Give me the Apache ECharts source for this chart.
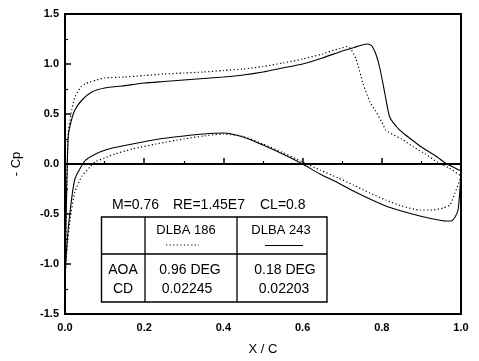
<!DOCTYPE html>
<html><head><meta charset="utf-8">
<script src="https://cdn.jsdelivr.net/npm/echarts@6/dist/echarts.min.js"></script>
<style>html,body{margin:0;padding:0;background:#fff}#c{width:479px;height:361px}</style>
</head><body><div id="c"></div>
<script>
// ---- tick labels ----
const xTickLabels = ['0.0','0.2','0.4','0.6','0.8','1.0'];
const yTickLabels = ['-1.5','-1.0','-0.5','0.0','0.5','1.0','1.5'];

// ---- DLBA 186 (dotted) ----
const dlba186UpperX  = [0, 0.003, 0.008, 0.015, 0.025, 0.04, 0.05, 0.063, 0.08, 0.1, 0.15, 0.2, 0.25, 0.3, 0.35, 0.4, 0.45, 0.5, 0.55, 0.6, 0.65, 0.68, 0.7, 0.71, 0.72, 0.735, 0.753, 0.77, 0.783, 0.8, 0.81, 0.83, 0.85, 0.88, 0.91, 0.94, 0.97, 1.0];
const dlba186UpperCp = [-1.15, -0.5, 0.3, 0.5, 0.67, 0.77, 0.8, 0.82, 0.84, 0.86, 0.87, 0.885, 0.9, 0.91, 0.92, 0.935, 0.95, 0.975, 1.01, 1.05, 1.1, 1.14, 1.16, 1.175, 1.16, 1.05, 0.8, 0.62, 0.54, 0.42, 0.34, 0.29, 0.25, 0.17, 0.1, 0.02, -0.04, -0.12];
const dlba186LowerX  = [0, 0.005, 0.013, 0.025, 0.043, 0.063, 0.076, 0.1, 0.126, 0.17, 0.23, 0.3, 0.35, 0.4, 0.45, 0.5, 0.55, 0.6, 0.644, 0.69, 0.728, 0.77, 0.81, 0.85, 0.896, 0.93, 0.955, 0.972, 0.985, 0.995, 1.0];
const dlba186LowerCp = [-1.15, -0.85, -0.55, -0.28, -0.12, -0.03, 0.02, 0.06, 0.1, 0.15, 0.2, 0.25, 0.28, 0.3, 0.275, 0.2, 0.115, 0.02, -0.06, -0.14, -0.21, -0.29, -0.36, -0.42, -0.46, -0.46, -0.44, -0.41, -0.29, -0.18, -0.12];

// ---- DLBA 243 (solid) ----
const dlba243UpperX  = [0, 0.003, 0.008, 0.015, 0.025, 0.043, 0.068, 0.1, 0.144, 0.2, 0.25, 0.3, 0.35, 0.4, 0.45, 0.5, 0.55, 0.6, 0.65, 0.7, 0.73, 0.75, 0.765, 0.775, 0.785, 0.795, 0.808, 0.82, 0.84, 0.86, 0.88, 0.9, 0.92, 0.94, 0.96, 0.98, 1.0];
const dlba243UpperCp = [-1.15, -0.5, 0.27, 0.42, 0.54, 0.64, 0.72, 0.76, 0.78, 0.81, 0.825, 0.84, 0.855, 0.87, 0.89, 0.92, 0.96, 1.0, 1.06, 1.13, 1.165, 1.19, 1.2, 1.18, 1.1, 0.96, 0.7, 0.47, 0.36, 0.29, 0.23, 0.17, 0.12, 0.07, 0.01, -0.03, -0.07];
const dlba243LowerX  = [0, 0.005, 0.013, 0.025, 0.05, 0.068, 0.088, 0.12, 0.17, 0.23, 0.3, 0.35, 0.4, 0.45, 0.5, 0.55, 0.6, 0.644, 0.69, 0.728, 0.77, 0.81, 0.85, 0.896, 0.93, 0.96, 0.975, 0.985, 0.993, 1.0];
const dlba243LowerCp = [-1.15, -0.8, -0.47, -0.15, 0.03, 0.08, 0.12, 0.16, 0.2, 0.245, 0.28, 0.3, 0.31, 0.27, 0.19, 0.1, 0.0, -0.1, -0.19, -0.27, -0.35, -0.42, -0.47, -0.52, -0.55, -0.57, -0.57, -0.53, -0.45, -0.1];

// ---- table text ----
const conditionTexts = ['M=0.76', 'RE=1.45E7', 'CL=0.8'];
const tableHeaders = ['DLBA 186', 'DLBA 243'];
const rowLabels = ['AOA', 'CD'];
const dlba186Values = ['0.96 DEG', '0.02245'];
const dlba243Values = ['0.18 DEG', '0.02203'];

const zip = (xs, ys) => xs.map((x, i) => [x, ys[i]]);
const FONT = '"Liberation Sans", Arial, sans-serif';
const dotted = { color: '#000', width: 1.2, type: [1.2, 2.4] };
const solid = { color: '#000', width: 1.1, type: 'solid' };

const chart = echarts.init(document.getElementById('c'));
const txt = (text, x, y, size, align) => ({
  type: 'text', silent: true,
  style: { text, x, y, font: size + 'px ' + FONT, fill: '#000', align: align || 'center', verticalAlign: 'middle' }
});
const ln = (x1, y1, x2, y2, style) => ({
  type: 'line', silent: true, shape: { x1, y1, x2, y2 },
  style: Object.assign({ stroke: '#000', lineWidth: 1.3 }, style || {})
});

chart.setOption({
  animation: false,
  backgroundColor: '#fff',
  textStyle: { fontFamily: FONT },
  grid: { left: 65, right: 18, top: 14, bottom: 41, show: true, borderColor: '#000', borderWidth: 2, backgroundColor: 'transparent' },
  xAxis: {
    type: 'value', min: 0, max: 1, interval: 0.2,
    axisLine: { show: true, lineStyle: { color: '#000', width: 2 } },
    axisTick: { show: true, inside: true, length: 6, lineStyle: { color: '#000', width: 1.5 } },
    minorTick: { show: true, splitNumber: 2, length: 3, lineStyle: { color: '#000', width: 1.2 } },
    splitLine: { show: false },
    axisLabel: { margin: 8, color: '#000', fontSize: 11, fontWeight: 'bold', fontFamily: FONT, formatter: v => xTickLabels[Math.round(v / 0.2)] },
    name: 'X / C', nameLocation: 'middle', nameGap: 29,
    nameTextStyle: { color: '#000', fontSize: 13, fontFamily: FONT }
  },
  yAxis: {
    type: 'value', min: -1.5, max: 1.5, interval: 0.5,
    axisLine: { show: true, lineStyle: { color: '#000', width: 2 } },
    axisTick: { show: true, inside: true, length: 6, lineStyle: { color: '#000', width: 1.5 } },
    minorTick: { show: true, splitNumber: 2, length: 3, lineStyle: { color: '#000', width: 1.2 } },
    splitLine: { show: false },
    axisLabel: { margin: 6, color: '#000', fontSize: 11, fontWeight: 'bold', fontFamily: FONT, formatter: v => yTickLabels[Math.round((v + 1.5) / 0.5)] },
    name: '- Cp', nameLocation: 'middle', nameGap: 42, nameRotate: 90,
    nameTextStyle: { color: '#000', fontSize: 13, fontFamily: FONT }
  },
  series: [
    { name: 'DLBA 186 upper', type: 'line', data: zip(dlba186UpperX, dlba186UpperCp), showSymbol: false, symbol: 'none', smooth: 0.2, lineStyle: dotted,
      markLine: { silent: true, symbol: ['none', 'none'], label: { show: false }, lineStyle: { color: '#000', width: 1.6, type: 'solid' }, data: [{ yAxis: 0 }] } },
    { name: 'DLBA 186 lower', type: 'line', data: zip(dlba186LowerX, dlba186LowerCp), showSymbol: false, symbol: 'none', smooth: 0.2, lineStyle: dotted },
    { name: 'DLBA 243 upper', type: 'line', data: zip(dlba243UpperX, dlba243UpperCp), showSymbol: false, symbol: 'none', smooth: 0.2, lineStyle: solid },
    { name: 'DLBA 243 lower', type: 'line', data: zip(dlba243LowerX, dlba243LowerCp), showSymbol: false, symbol: 'none', smooth: 0.2, lineStyle: solid }
  ],
  graphic: [
    txt(conditionTexts[0], 112, 205, 14, 'left'),
    txt(conditionTexts[1], 173, 205, 14, 'left'),
    txt(conditionTexts[2], 260, 205, 14, 'left'),
    { type: 'rect', silent: true, shape: { x: 101.5, y: 217, width: 225.5, height: 85 }, style: { fill: 'none', stroke: '#000', lineWidth: 1.4 } },
    ln(101.5, 254, 327, 254),
    ln(145, 217, 145, 302),
    ln(237, 217, 237, 302),
    txt(tableHeaders[0], 186, 230, 13),
    txt(tableHeaders[1], 281, 230, 13),
    ln(166, 245, 199, 245, { lineWidth: 1.2, lineDash: [1.2, 2.4] }),
    ln(265, 245.5, 303, 245.5, { lineWidth: 1.1 }),
    txt(rowLabels[0], 123, 270, 14),
    txt(rowLabels[1], 123, 289, 14),
    txt(dlba186Values[0], 190, 270, 14),
    txt(dlba186Values[1], 187, 289, 14),
    txt(dlba243Values[0], 285, 270, 14),
    txt(dlba243Values[1], 284, 289, 14)
  ]
});
</script></body></html>
